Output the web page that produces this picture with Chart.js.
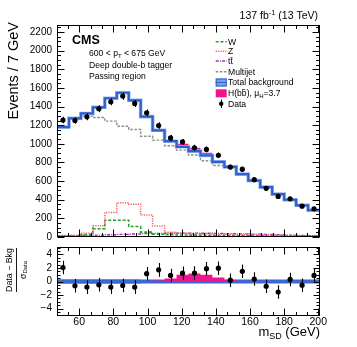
<!DOCTYPE html>
<html>
<head>
<meta charset="utf-8">
<script src="https://cdn.jsdelivr.net/npm/chart.js@4.4.1/dist/chart.umd.min.js"></script>
<style>
  body { margin: 0; background: #fff; }
  #wrap { position: relative; width: 357px; height: 347px; }
  canvas { position: absolute; left: 0; }
  #main { top: 0; }
  #ratio { top: 242px; }
</style>
</head>
<body>
<div id="wrap">
  <canvas id="main" width="357" height="242"></canvas>
  <canvas id="ratio" width="357" height="105"></canvas>
</div>
<script>
// bin edges of m_SD (GeV), 7 GeV bins
const binEdges = [47, 54, 61, 68, 75, 82, 89, 96, 103, 110, 117, 124, 131, 138, 145, 152, 159, 166, 173, 180, 187, 194, 201];

// events per bin
const dataCounts = [1255, 1250, 1290, 1376, 1451, 1512, 1433, 1333, 1196, 1063, 1020, 958, 940, 877, 750, 728, 615, 522, 435, 410, 331, 302];
const totalBkg   = [1180, 1274, 1326, 1392, 1489, 1548, 1467, 1292, 1145, 1028, 968, 922, 875, 806, 752, 675, 606, 535, 460, 400, 340, 287];
const higgs      = [0, 0, 0, 0, 0, 0, 0, 0, 4, 10, 32, 36, 28, 16, 6, 2, 0, 0, 0, 0, 0, 0];
const multijet   = [1172, 1265, 1297, 1283, 1243, 1189, 1153, 1081, 1040, 980, 932, 880, 818, 768, 742, 667, 598, 527, 452, 392, 332, 280];
const zjets      = [15, 20, 40, 120, 262, 368, 352, 236, 118, 52, 40, 35, 32, 30, 28, 25, 22, 20, 18, 16, 14, 12];
const wjets      = [8, 10, 25, 88, 180, 180, 112, 52, 30, 25, 22, 20, 18, 16, 15, 14, 13, 12, 11, 10, 9, 8];
const ttbar      = [12, 14, 16, 20, 24, 28, 32, 36, 38, 40, 42, 42, 40, 38, 36, 33, 30, 27, 24, 21, 18, 15];

// lower panel: (Data - Bkg) / sigma_Data
const pulls      = [2.06, -0.63, -0.83, -0.49, -0.83, -0.59, -0.83, 1.15, 1.72, 0.9, 1.23, 1.25, 1.9, 1.97, 0.2, 1.5, 0.37, -0.7, -1.55, 0.3, -0.55, 0.9];
const higgsPull  = [0, 0, 0, 0, 0, 0, 0, 0, 0.15, 0.45, 1.0, 1.2, 1.0, 0.6, 0.25, 0, 0, 0, 0, 0, 0, 0];
const bandHalf   = [0.35, 0.35, 0.35, 0.35, 0.35, 0.35, 0.35, 0.3, 0.28, 0.28, 0.3, 0.3, 0.3, 0.3, 0.3, 0.3, 0.3, 0.3, 0.3, 0.3, 0.3, 0.3];

const FONT = '"Liberation Sans", Arial, Helvetica, sans-serif';
const centers = binEdges.slice(0, -1).map((e, i) => (e + binEdges[i + 1]) / 2);

function stepPoints(vals) {
  const pts = vals.map((v, i) => ({ x: binEdges[i], y: v }));
  pts.push({ x: binEdges[vals.length], y: vals[vals.length - 1] });
  return pts;
}

function histo(label, vals, color, width, dash) {
  return {
    label: label, data: stepPoints(vals), stepped: true,
    borderColor: color, borderWidth: width, borderDash: dash || [],
    pointRadius: 0, fill: false
  };
}

// draw a string made of pieces (for sub/superscripts)
function rich(ctx, parts, x, y, align) {
  let w = 0;
  parts.forEach(p => {
    ctx.font = (p.bold ? 'bold ' : '') + p.size + 'px ' + FONT;
    w += ctx.measureText(p.t).width;
  });
  let cx = align === 'right' ? x - w : (align === 'center' ? x - w / 2 : x);
  parts.forEach(p => {
    ctx.font = (p.bold ? 'bold ' : '') + p.size + 'px ' + FONT;
    ctx.fillText(p.t, cx, y + (p.dy || 0));
    cx += ctx.measureText(p.t).width;
  });
}

// ROOT style frame with ticks pointing inwards on all four sides
function frameTicks(chart, o) {
  const { ctx, chartArea: a } = chart;
  const xs = chart.scales.x, ys = chart.scales.y;
  const L = Math.round(a.left) + 0.5, R = Math.round(a.right) - 0.5;
  const T = Math.round(a.top) + 0.5, B = Math.round(a.bottom) - 0.5;
  ctx.save();
  ctx.strokeStyle = '#000';
  ctx.lineWidth = 1;
  ctx.strokeRect(L, T, R - L, B - T);
  ctx.beginPath();
  for (let k = Math.ceil(xs.min / o.xMinor - 1e-9); k * o.xMinor <= xs.max + 1e-9; k++) {
    const v = k * o.xMinor;
    const major = Math.abs(v / o.xMajor - Math.round(v / o.xMajor)) < 1e-6;
    const len = major ? o.xLen : o.xLen / 2;
    const px = Math.round(xs.getPixelForValue(v)) + 0.5;
    ctx.moveTo(px, B); ctx.lineTo(px, B - len);
    ctx.moveTo(px, T); ctx.lineTo(px, T + len);
  }
  for (let k = Math.ceil(ys.min / o.yMinor - 1e-9); k * o.yMinor <= ys.max + 1e-9; k++) {
    const v = k * o.yMinor;
    const major = Math.abs(v / o.yMajor - Math.round(v / o.yMajor)) < 1e-6;
    const len = major ? o.yLen : o.yLen / 2;
    const py = Math.round(ys.getPixelForValue(v)) + 0.5;
    ctx.moveTo(L, py); ctx.lineTo(L + len, py);
    ctx.moveTo(R, py); ctx.lineTo(R - len, py);
  }
  ctx.stroke();
  ctx.restore();
}

function errorBars(chart, vals, errs) {
  const { ctx } = chart;
  const xs = chart.scales.x, ys = chart.scales.y;
  ctx.save();
  ctx.strokeStyle = '#000';
  ctx.lineWidth = 1.1;
  ctx.beginPath();
  vals.forEach((v, i) => {
    const px = Math.round(xs.getPixelForValue(centers[i])) + 0.5;
    ctx.moveTo(px, ys.getPixelForValue(v - errs[i]));
    ctx.lineTo(px, ys.getPixelForValue(v + errs[i]));
  });
  ctx.stroke();
  ctx.restore();
}

function fixWidth(w) {
  return s => { s.width = w; s.paddingTop = 0; s.paddingBottom = 0; };
}
function fixHeight(h) {
  return s => { s.height = h; s.paddingLeft = 0; s.paddingRight = 0; };
}
function keepMultiples(step) {
  return s => {
    s.ticks = s.ticks.filter(t => t.value >= s.min && t.value <= s.max &&
      Math.abs(t.value / step - Math.round(t.value / step)) < 1e-6);
  };
}

const bkgPlusH = totalBkg.map((v, i) => v + higgs[i]);
const dataErr = dataCounts.map(v => Math.sqrt(v));

// ---------- upper panel ----------
const mainPlugin = {
  id: 'mainDeco',
  afterDatasetsDraw(chart) {
    errorBars(chart, dataCounts, dataErr);
  },
  afterDraw(chart) {
    const ctx = chart.ctx;
    frameTicks(chart, { xMajor: 20, xMinor: 20 / 3, xLen: 7, yMajor: 200, yMinor: 50, yLen: 7 });
    ctx.save();
    ctx.fillStyle = '#000';
    ctx.textBaseline = 'alphabetic';

    // lumi label
    rich(ctx, [{ t: '137 fb', size: 10.5 }, { t: '-1', size: 7.5, dy: -4 }, { t: ' (13 TeV)', size: 10.5 }], 318, 18.5, 'right');

    rich(ctx, [{ t: 'CMS', size: 12.5, bold: true }], 72, 44);
    rich(ctx, [{ t: '600 < p', size: 8.6 }, { t: 'T', size: 6, dy: 2 }, { t: ' < 675 GeV', size: 8.6 }], 89, 56);
    rich(ctx, [{ t: 'Deep double-b tagger', size: 8.6 }], 89, 67.5);
    rich(ctx, [{ t: 'Passing region', size: 8.6 }], 89, 79);

    // y title
    ctx.save();
    ctx.translate(14, 22);
    ctx.rotate(-Math.PI / 2);
    ctx.textAlign = 'right';
    ctx.textBaseline = 'middle';
    ctx.font = '14.5px ' + FONT;
    ctx.fillText('Events / 7 GeV', 0, 0);
    ctx.restore();

    // legend
    const lx0 = 215.7, lx1 = 226.7, tx = 228;
    const lines = [
      { y: 41.7, c: '#2a9d2a', d: [3, 1.8], w: 1.6 },
      { y: 51.3, c: '#f06060', d: [1.2, 1.2], w: 1.5 },
      { y: 61, c: '#9b2fae', d: [3, 1.2, 1, 1.2], w: 1.3 },
      { y: 71.7, c: '#8c8c8c', d: [2.5, 1.6], w: 1.4 }
    ];
    lines.forEach(l => {
      ctx.save();
      ctx.strokeStyle = l.c; ctx.lineWidth = l.w; ctx.setLineDash(l.d);
      ctx.beginPath(); ctx.moveTo(lx0, l.y); ctx.lineTo(lx1, l.y); ctx.stroke();
      ctx.restore();
    });
    ctx.fillStyle = '#7d9fea';
    ctx.fillRect(lx0, 78.5, lx1 - lx0, 8);
    ctx.strokeStyle = '#2f5fcf'; ctx.lineWidth = 1;
    ctx.strokeRect(lx0 + 0.5, 79, lx1 - lx0 - 1, 7);
    ctx.beginPath(); ctx.moveTo(lx0, 82.5); ctx.lineTo(lx1, 82.5); ctx.stroke();
    ctx.fillStyle = '#f0148c';
    ctx.fillRect(lx0, 89.3, lx1 - lx0, 8);
    ctx.fillStyle = '#000';
    ctx.beginPath(); ctx.arc(221.2, 103.7, 2.2, 0, 2 * Math.PI); ctx.fill();
    ctx.strokeStyle = '#000';
    ctx.beginPath(); ctx.moveTo(221.5, 99.5); ctx.lineTo(221.5, 108); ctx.stroke();

    const ts = 8.6;
    rich(ctx, [{ t: 'W', size: ts }], tx, 44.7);
    rich(ctx, [{ t: 'Z', size: ts }], tx, 54.3);
    rich(ctx, [{ t: 't\u0074\u0304', size: ts }], tx, 64);
    rich(ctx, [{ t: 'Multijet', size: ts }], tx, 74.7);
    rich(ctx, [{ t: 'Total background', size: ts }], tx, 85.3);
    rich(ctx, [{ t: 'H(b\u0062\u0304), \u03bc', size: ts }, { t: 'H', size: 6, dy: 2 }, { t: '=3.7', size: ts }], tx, 96.3);
    rich(ctx, [{ t: 'Data', size: ts }], tx, 106.7);
    ctx.restore();
  }
};

new Chart(document.getElementById('main'), {
  type: 'line',
  data: {
    datasets: [
      {
        label: 'Data', data: centers.map((x, i) => ({ x: x, y: dataCounts[i] })),
        showLine: false, pointRadius: 2.6, pointBackgroundColor: '#000', pointBorderWidth: 0
      },
      histo('Total background', totalBkg, '#2f5fcf', 2.2),
      histo('Total background band', totalBkg, '#9ab6ef', 3.6),
      {
        label: 'H(bb)', data: stepPoints(bkgPlusH), stepped: true,
        borderColor: 'rgba(0,0,0,0)', borderWidth: 1, backgroundColor: '#f0148c',
        pointRadius: 0, fill: 2
      },
      histo('Multijet', multijet, '#8c8c8c', 1.4, [2.5, 1.6]),
      histo('Z', zjets, '#f06060', 1.5, [1.2, 1.2]),
      histo('W', wjets, '#2a9d2a', 1.6, [3, 1.8]),
      histo('tt', ttbar, '#9b2fae', 1.3, [3, 1.2, 1, 1.2])
    ]
  },
  options: {
    responsive: false,
    animation: false,
    devicePixelRatio: 1,
    layout: { padding: { top: 25, right: 37, bottom: 5, left: 0 } },
    plugins: { legend: { display: false }, tooltip: { enabled: false } },
    scales: {
      x: { type: 'linear', min: 47, max: 201, display: false },
      y: {
        min: 0, max: 2275,
        afterFit: fixWidth(57),
        afterBuildTicks: keepMultiples(200),
        grid: { display: false, drawTicks: false },
        border: { display: false },
        ticks: {
          stepSize: 200, includeBounds: false, padding: 5, color: '#000', font: { family: FONT, size: 10 },
          callback: v => String(v)
        }
      }
    }
  },
  plugins: [mainPlugin]
});

// ---------- lower panel ----------
const ratioPlugin = {
  id: 'ratioDeco',
  afterDatasetsDraw(chart) {
    errorBars(chart, pulls, pulls.map(() => 1));
  },
  afterDraw(chart) {
    const ctx = chart.ctx;
    frameTicks(chart, { xMajor: 20, xMinor: 20 / 3, xLen: 7, yMajor: 2, yMinor: 0.5, yLen: 6 });
    ctx.save();
    ctx.fillStyle = '#000';
    rich(ctx, [{ t: 'm', size: 13 }, { t: 'SD', size: 9, dy: 3 }, { t: ' (GeV)', size: 13 }], 320, 93.5, 'right');

    // fraction y title
    ctx.translate(16.5, 28);
    ctx.rotate(-Math.PI / 2);
    ctx.textBaseline = 'middle';
    rich(ctx, [{ t: 'Data \u2212 Bkg', size: 8.8 }], 0, -6.5, 'center');
    rich(ctx, [{ t: '\u03c3', size: 8.8 }, { t: 'Data', size: 6, dy: 2 }], 0, 7, 'center');
    ctx.strokeStyle = '#000'; ctx.lineWidth = 0.9;
    ctx.beginPath(); ctx.moveTo(-22, 0); ctx.lineTo(22, 0); ctx.stroke();
    ctx.restore();
  }
};

new Chart(document.getElementById('ratio'), {
  type: 'line',
  data: {
    datasets: [
      {
        label: 'Pull', data: centers.map((x, i) => ({ x: x, y: pulls[i] })),
        showLine: false, pointRadius: 2.6, pointBackgroundColor: '#000', pointBorderWidth: 0
      },
      {
        label: 'H(bb)', data: stepPoints(higgsPull), stepped: true,
        borderColor: 'rgba(0,0,0,0)', borderWidth: 1, backgroundColor: '#f0148c',
        pointRadius: 0, fill: 'origin'
      },
      {
        label: 'band up', data: stepPoints(bandHalf), stepped: true,
        borderColor: 'rgba(0,0,0,0)', borderWidth: 1, backgroundColor: '#3a66d6',
        pointRadius: 0, fill: 3
      },
      {
        label: 'band down', data: stepPoints(bandHalf.map(v => -v)), stepped: true,
        borderColor: 'rgba(0,0,0,0)', borderWidth: 1, pointRadius: 0, fill: false
      }
    ]
  },
  options: {
    responsive: false,
    animation: false,
    devicePixelRatio: 1,
    layout: { padding: { top: 5, right: 37, bottom: 0, left: 0 } },
    plugins: { legend: { display: false }, tooltip: { enabled: false } },
    scales: {
      x: {
        type: 'linear', min: 47, max: 201,
        afterFit: fixHeight(31),
        afterBuildTicks: keepMultiples(20),
        grid: { display: false, drawTicks: false },
        border: { display: false },
        ticks: { stepSize: 20, includeBounds: false, padding: 0, maxRotation: 0, autoSkip: false, color: '#000', font: { family: FONT, size: 10.5 } }
      },
      y: {
        min: -5.1, max: 5.1,
        afterFit: fixWidth(57),
        afterBuildTicks: keepMultiples(2),
        grid: { display: false, drawTicks: false },
        border: { display: false },
        ticks: {
          stepSize: 2, includeBounds: false, padding: 5, color: '#000', font: { family: FONT, size: 10 },
          callback: v => (v < 0 ? '\u2212' + Math.abs(v) : String(v))
        }
      }
    }
  },
  plugins: [ratioPlugin]
});
</script>
</body>
</html>
